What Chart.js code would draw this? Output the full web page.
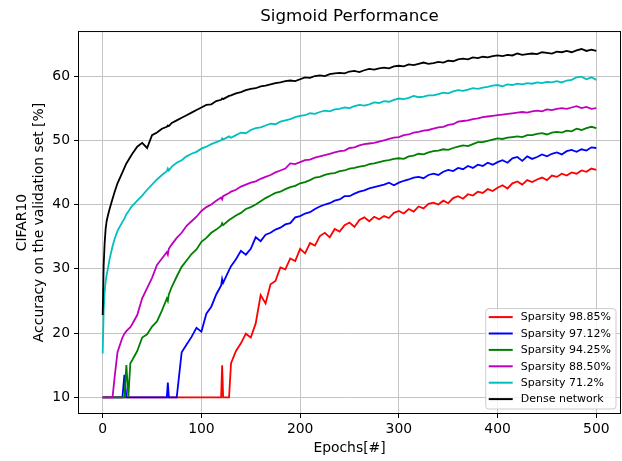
<!DOCTYPE html>
<html>
<head>
<meta charset="utf-8">
<script src="https://cdn.jsdelivr.net/npm/chart.js@4.4.1/dist/chart.umd.min.js"></script>
<style>
  html, body { margin: 0; padding: 0; background: #fff; }
  canvas { display: block; }
</style>
</head>
<body>
<canvas id="grafico" width="622" height="461"></canvas>
<script>
// epochs (denser where the curves jump)
const epochs = [
  0, 1, 2, 3, 4, 5, 7, 10, 12, 15,
  20, 22, 24, 26, 28, 30, 35, 40, 45, 50,
  55, 60, 65, 66, 67, 70, 75, 80, 85, 90,
  95, 100, 105, 110, 115, 120, 121, 122, 128, 130,
  135, 140, 145, 150, 155, 160, 165, 170, 175, 180,
  185, 190, 195, 200, 205, 210, 215, 220, 225, 230,
  235, 240, 245, 250, 255, 260, 265, 270, 275, 280,
  285, 290, 295, 300, 305, 310, 315, 320, 325, 330,
  335, 340, 345, 350, 355, 360, 365, 370, 375, 380,
  385, 390, 395, 400, 405, 410, 415, 420, 425, 430,
  435, 440, 445, 450, 455, 460, 465, 470, 475, 480,
  485, 490, 495, 500
];

const sparsity9885 = [
  10, 10, 10, 10, 10, 10, 10, 10, 10, 10,
  10, 10, 10, 10, 10, 10, 10, 10, 10, 10,
  10, 10, 10, 10, 10, 10, 10, 10, 10, 10,
  10, 10, 10, 10, 10, 10, 15.0, 10, 10, 15.3,
  17.2, 18.4, 19.9, 19.3, 21.5, 25.9, 24.6, 27.6, 28.1, 30.2,
  29.9, 31.6, 31.2, 33.1, 32.4, 34.0, 33.6, 35.1, 35.6, 34.9,
  36.2, 35.8, 36.8, 37.2, 36.5, 37.6, 38.0, 37.4, 38.1, 37.7,
  38.2, 37.9, 38.7, 39.0, 38.6, 39.3, 38.9, 39.7, 39.4, 40.1,
  40.3, 40.0, 40.6, 40.2, 41.0, 41.3, 40.9, 41.6, 41.4, 42.0,
  41.8, 42.4, 42.1, 42.6, 43.0, 42.5, 43.3, 43.6, 43.1, 43.8,
  43.5, 43.9, 44.2, 43.8, 44.5, 44.3, 44.8, 44.5, 45.0, 44.8,
  45.3, 45.1, 45.6, 45.4
];

const sparsity9712 = [
  10, 10, 10, 10, 10, 10, 10, 10, 10, 10,
  10, 13.5, 10, 10, 10, 10, 10, 10, 10, 10,
  10, 10, 10, 12.3, 10, 10, 10, 17.0, 18.2, 19.4,
  20.8, 20.2, 23.0, 24.1, 26.0, 27.4, 28.4, 27.8, 29.8, 30.4,
  31.5, 32.8, 32.2, 33.1, 34.9, 34.3, 35.3, 35.6, 36.1, 36.4,
  36.9, 37.1, 38.0, 38.2, 38.6, 38.8, 39.3, 39.7, 40.0, 40.2,
  40.6, 40.8, 41.3, 41.3, 41.7, 42.0, 42.2, 42.5, 42.7, 42.9,
  43.1, 43.4, 43.0, 43.4, 43.7, 43.9, 44.2, 44.3, 44.1, 44.6,
  44.8, 44.6, 45.1, 45.4, 45.2, 45.7, 45.5, 46.0, 45.7, 46.2,
  46.0, 46.5, 46.2, 46.6, 46.9, 46.5, 47.2, 47.4, 46.8, 47.5,
  47.1, 47.4, 47.8, 47.5, 47.9, 48.1, 47.8, 48.3, 48.5, 48.2,
  48.6, 48.4, 48.9, 48.8
];

const sparsity9425 = [
  10, 10, 10, 10, 10, 10, 10, 10, 10, 10,
  10, 10, 15.0, 10, 15.3, 15.8, 17.2, 19.3, 19.8, 21.0,
  21.8, 23.5, 25.4, 25.0, 26.0, 27.2, 28.8, 30.3, 31.3, 32.3,
  33.0, 34.2, 34.8, 35.6, 36.1, 36.7, 37.1, 36.8, 37.6, 37.8,
  38.3, 38.7, 39.3, 39.6, 40.0, 40.5, 41.0, 41.4, 41.8, 42.0,
  42.4, 42.7, 42.9, 43.3, 43.5, 43.8, 44.2, 44.3, 44.6, 44.8,
  44.9, 45.2, 45.3, 45.6, 45.7, 45.9, 46.0, 46.3, 46.4, 46.6,
  46.8, 46.9, 47.1, 47.2, 47.1, 47.5, 47.6, 47.9, 47.8, 48.1,
  48.3, 48.4, 48.6, 48.5, 48.8, 49.0, 49.2, 49.1, 49.4, 49.7,
  49.7, 49.9, 50.1, 50.3, 50.2, 50.4, 50.5, 50.6, 50.5, 50.8,
  50.8, 51.0, 51.1, 50.9, 51.2, 51.3, 51.2, 51.5, 51.4, 51.8,
  51.6, 51.9, 52.1, 51.9
];

const sparsity8850 = [
  10, 10, 10, 10, 10, 10, 10, 10, 13.0, 17.0,
  19.3, 19.9, 20.3, 20.6, 20.9, 21.4, 22.8, 25.4, 27.0, 28.6,
  30.6, 31.6, 32.6, 32.2, 33.1, 33.8, 34.8, 35.6, 36.7, 37.4,
  38.1, 39.0, 39.6, 40.0, 40.6, 41.1, 40.8, 41.3, 41.8, 42.0,
  42.3, 42.8, 43.1, 43.4, 43.6, 44.0, 44.3, 44.6, 45.0, 45.3,
  45.6, 46.4, 46.3, 46.6, 46.9, 47.0, 47.3, 47.5, 47.7, 47.9,
  48.1, 48.3, 48.4, 48.8, 48.9, 49.2, 49.4, 49.5, 49.6, 49.8,
  50.0, 50.2, 50.4, 50.5, 50.8, 50.9, 51.2, 51.3, 51.5, 51.6,
  51.8, 52.0, 52.1, 52.4, 52.5, 52.9, 53.0, 53.1, 53.3, 53.4,
  53.6, 53.7, 53.8, 53.9, 54.0, 54.1, 54.2, 54.3, 54.4, 54.3,
  54.5, 54.6, 54.5, 54.8, 54.7, 54.9, 55.0, 54.9, 55.1, 55.3,
  55.0, 55.2, 54.9, 55.0
];

const sparsity712 = [
  16.8, 23.5, 26.5, 28.0, 29.0, 29.8, 31.5, 33.5, 34.6, 35.9,
  37.3, 37.8, 38.5, 38.9, 39.4, 39.8, 40.6, 41.4, 42.3, 43.1,
  43.9, 44.6, 45.2, 45.6, 45.3, 45.9, 46.5, 46.9, 47.5, 47.9,
  48.2, 48.7, 49.0, 49.4, 49.7, 50.0, 50.3, 50.1, 50.6, 50.4,
  50.8, 51.2, 51.1, 51.6, 51.9, 52.0, 52.3, 52.6, 52.5, 52.9,
  53.1, 53.3, 53.6, 53.8, 53.9, 54.2, 54.1, 54.4, 54.6, 54.5,
  54.8, 54.9, 55.1, 55.0, 55.3, 55.5, 55.4, 55.6, 55.9, 55.8,
  56.1, 56.0, 56.3, 56.5, 56.4, 56.6, 56.9, 56.7, 56.8, 57.0,
  57.0, 57.2, 57.4, 57.3, 57.6, 57.8, 57.7, 57.9, 58.1, 58.0,
  58.2, 58.3, 58.5, 58.6, 58.4, 58.7, 58.6, 58.8, 58.7, 58.9,
  58.8, 59.0, 58.9, 59.1, 59.0, 59.2, 59.0, 59.3, 59.4, 59.8,
  59.9, 59.5, 59.8, 59.4
];

const dense = [
  22.8, 30.5, 34.0, 36.2, 37.4, 38.1, 39.3, 40.9, 41.9, 43.3,
  45.0, 45.7, 46.4, 46.9, 47.4, 47.9, 49.0, 49.6, 48.8, 50.8,
  51.2, 51.8, 52.1, 52.3, 52.2, 52.7, 53.1, 53.5, 53.9, 54.3,
  54.7, 55.1, 55.5, 55.6, 56.1, 56.3, 56.5, 56.4, 56.9, 57.0,
  57.3, 57.5, 57.8, 58.0, 58.1, 58.4, 58.5, 58.7, 58.9, 59.0,
  59.2, 59.3, 59.2, 59.5, 59.8, 59.7, 60.0, 60.1, 60.0, 60.3,
  60.4, 60.5, 60.4, 60.7, 60.8, 60.6, 60.9, 61.1, 61.0, 61.2,
  61.3, 61.2, 61.5, 61.6, 61.5, 61.8, 61.7, 61.9, 62.1, 61.9,
  62.0, 62.2, 62.1, 62.4, 62.3, 62.6, 62.7, 62.6, 62.9, 62.8,
  63.0, 62.9, 63.1, 63.2, 63.1, 63.3, 63.2, 63.5, 63.3, 63.4,
  63.5, 63.4, 63.7, 63.6, 63.5, 63.8, 63.7, 63.9, 63.7, 64.0,
  64.2, 63.9, 64.1, 63.9
];

const labels = ['Sparsity 98.85%', 'Sparsity 97.12%', 'Sparsity 94.25%', 'Sparsity 88.50%', 'Sparsity 71.2%', 'Dense network'];
const colors = ['#ff0000', '#0000ff', '#008000', '#bf00bf', '#00bfbf', '#000000'];
const series = [sparsity9885, sparsity9712, sparsity9425, sparsity8850, sparsity712, dense];
const xTicks = [0, 100, 200, 300, 400, 500];
const yTicks = [10, 20, 30, 40, 50, 60];

const family = '"DejaVu Sans", sans-serif';

const toPoints = (vals) => epochs.map((e, i) => ({ x: e, y: vals[i] }));

// black box round the plot, like matplotlib spines
const frame = {
    id: 'frame',
    afterDatasetsDraw(chart) {
        const { ctx, chartArea: a } = chart;
        ctx.save();
        ctx.strokeStyle = '#000';
        ctx.lineWidth = 1;
        ctx.strokeRect(a.left + 0.5, a.top + 0.5, a.right - a.left - 1, a.bottom - a.top - 1);
        ctx.restore();
    }
};

// legend box in the lower right corner of the plot
const boxLegend = {
    id: 'boxLegend',
    afterDraw(chart) {
        const { ctx, chartArea: a } = chart;
        const sets = chart.data.datasets;
        ctx.save();
        ctx.font = '11px ' + family;
        const textW = Math.max(...sets.map(d => ctx.measureText(d.label).width));
        const rowH = 16.4;
        const w = 3 + 24 + 8 + textW + 5;
        const h = sets.length * rowH + 2;
        const x = a.right - 5 - w;
        const y = a.bottom - 5 - h;
        ctx.beginPath();
        ctx.roundRect(x, y, w, h, 3);
        ctx.fillStyle = 'rgba(255,255,255,0.8)';
        ctx.fill();
        ctx.strokeStyle = '#cccccc';
        ctx.lineWidth = 1;
        ctx.stroke();
        ctx.textBaseline = 'middle';
        sets.forEach((d, i) => {
            const cy = y + 8.5 + i * rowH;
            ctx.strokeStyle = d.borderColor;
            ctx.lineWidth = 2;
            ctx.beginPath();
            ctx.moveTo(x + 3, cy);
            ctx.lineTo(x + 27, cy);
            ctx.stroke();
            ctx.fillStyle = '#000';
            ctx.fillText(d.label, x + 35, cy + 0.5);
        });
        ctx.restore();
    }
};

new Chart(document.getElementById('grafico'), {
    type: 'line',
    data: {
        datasets: series.map((vals, i) => ({
            label: labels[i],
            data: toPoints(vals),
            borderColor: colors[i],
            backgroundColor: colors[i],
            borderWidth: 1.8,
            pointRadius: 0,
            tension: 0,
            fill: false,
            order: series.length - i
        }))
    },
    options: {
        responsive: false,
        animation: false,
        devicePixelRatio: 1,
        layout: { padding: { left: 0, right: 1, top: 0, bottom: 0 } },
        plugins: {
            legend: { display: false },
            tooltip: { enabled: false },
            title: {
                display: true,
                fullSize: false,
                text: 'Sigmoid Performance',
                color: '#000',
                font: { family, size: 16.7, weight: 'normal' },
                padding: { top: 7, bottom: 4 }
            }
        },
        scales: {
            x: {
                type: 'linear',
                min: -25,
                max: 525,
                afterBuildTicks: s => { s.ticks = xTicks.map(v => ({ value: v })); },
                afterFit: s => { s.height = 47; },
                ticks: { color: '#000', font: { family, size: 13.9 }, padding: 3, maxRotation: 0 },
                grid: { color: '#c4c4c4', lineWidth: 1, tickColor: '#000', tickLength: 4 },
                border: { display: false },
                title: {
                    display: true,
                    text: 'Epochs[#]',
                    color: '#000',
                    font: { family, size: 13.9 },
                    padding: { top: 0, bottom: 4 }
                }
            },
            y: {
                min: 7.4,
                max: 67.0,
                afterBuildTicks: s => { s.ticks = yTicks.map(v => ({ value: v })); },
                afterFit: s => { s.width = 78; },
                ticks: { color: '#000', font: { family, size: 13.9 }, padding: 4 },
                grid: { color: '#c4c4c4', lineWidth: 1, tickColor: '#000', tickLength: 4 },
                border: { display: false },
                title: {
                    display: true,
                    text: ['CIFAR10', 'Accuracy on the validation set [%]'],
                    color: '#000',
                    font: { family, size: 13.9 },
                    padding: { top: 14, bottom: 2 }
                }
            }
        }
    },
    plugins: [frame, boxLegend]
});
</script>
</body>
</html>
